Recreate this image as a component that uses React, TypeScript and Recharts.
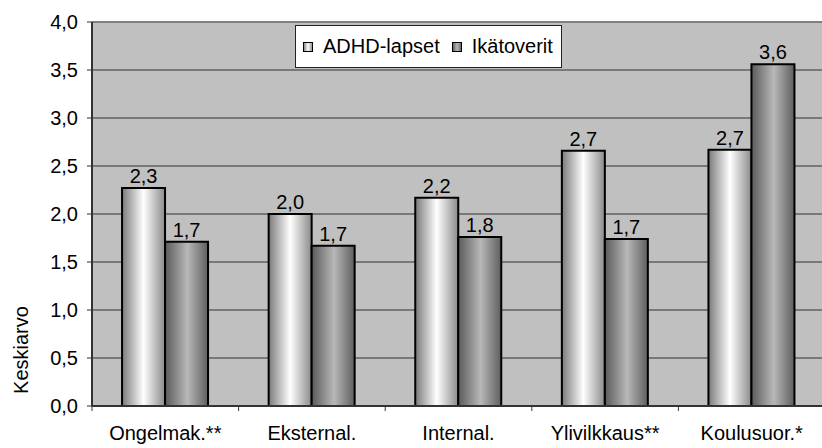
import React from 'react';
import { BarChart, Bar, XAxis, YAxis, CartesianGrid, LabelList, ReferenceLine, Label } from 'recharts';

const CATEGORIES = ['Ongelmak.**', 'Eksternal.', 'Internal.', 'Ylivilkkaus**', 'Koulusuor.*'];
const ADHD_VALUES = [2.27, 2.0, 2.17, 2.66, 2.67];
const PEER_VALUES = [1.71, 1.67, 1.76, 1.74, 3.56];
const SERIES_NAMES = ['ADHD-lapset', 'Ikätoverit'];
const Y_TICKS = [0, 0.5, 1, 1.5, 2, 2.5, 3, 3.5, 4];

const FONT = '"Liberation Sans", Arial, sans-serif';
const GRADIENT_IDS = ['grad-adhd', 'grad-peers'];

const data = CATEGORIES.map((name, i) => ({
  name,
  adhd: ADHD_VALUES[i],
  peers: PEER_VALUES[i],
}));

const fmt = (v: number) => Number(v).toFixed(1).replace('.', ',');

// category label centred in its band, tick mark on the band's left edge
const CategoryTick = (props: any) => {
  const { x, y, payload, index, visibleTicksCount } = props;
  const half = payload?.offset ?? 73;
  const top = y - 20;
  return (
    <g>
      <line x1={x - half} x2={x - half} y1={top} y2={top + 5} stroke="#333" strokeWidth={1} />
      {index === visibleTicksCount - 1 && (
        <line x1={x + half} x2={x + half} y1={top} y2={top + 5} stroke="#333" strokeWidth={1} />
      )}
      <text x={x} y={y} dy="0.71em" textAnchor="middle" fill="#000" fontSize={20} fontFamily={FONT}>
        {payload.value}
      </text>
    </g>
  );
};

const YTitle = (props: any) => {
  const { viewBox } = props;
  const cx = viewBox.x + 21;
  const cy = viewBox.y + viewBox.height - 56;
  return (
    <text
      x={cx}
      y={cy}
      transform={`rotate(-90 ${cx} ${cy})`}
      textAnchor="middle"
      dominantBaseline="central"
      fontSize={20}
      fontFamily={FONT}
      fill="#000"
    >
      Keskiarvo
    </text>
  );
};

const LegendBox = () => (
  <div
    style={{
      position: 'absolute',
      left: 295,
      top: 25,
      height: 41,
      display: 'flex',
      alignItems: 'center',
      background: '#fff',
      border: '1px solid #222',
      padding: '0 8px 0 7px',
      fontFamily: FONT,
      fontSize: 20,
      color: '#000',
      whiteSpace: 'nowrap',
    }}
  >
    {SERIES_NAMES.map((n, i) => (
      <span key={n} style={{ display: 'flex', alignItems: 'center', marginRight: i === 0 ? 12 : 0 }}>
        <svg width={10} height={10} style={{ marginRight: 10 }}>
          <rect x={0.5} y={0.5} width={9} height={9} fill={`url(#${GRADIENT_IDS[i]})`} stroke="#000" />
        </svg>
        {n}
      </span>
    ))}
  </div>
);

export default function App() {
  return (
    <div style={{ position: 'absolute', left: 0, top: 0, width: 822, height: 448, overflow: 'hidden', background: '#fff' }}>
      <BarChart
        width={830}
        height={448}
        data={data}
        margin={{ top: 22, right: 5, bottom: 0, left: 0 }}
        barCategoryGap="20.5%"
        barGap={0}
      >
        <defs>
          <linearGradient id="grad-adhd" x1="0" y1="0" x2="1" y2="0">
            <stop offset="0%" stopColor="#7a7a7a" />
            <stop offset="50%" stopColor="#ffffff" />
            <stop offset="100%" stopColor="#8a8a8a" />
          </linearGradient>
          <linearGradient id="grad-peers" x1="0" y1="0" x2="1" y2="0">
            <stop offset="0%" stopColor="#5a5a5a" />
            <stop offset="52%" stopColor="#b8b8b8" />
            <stop offset="100%" stopColor="#5e5e5e" />
          </linearGradient>
        </defs>
        <CartesianGrid vertical={false} stroke="#333" fill="#c0c0c0" fillOpacity={1} />
        <XAxis
          dataKey="name"
          height={42}
          axisLine={{ stroke: '#333', strokeWidth: 2 }}
          tickLine={false}
          tickSize={5}
          tickMargin={15}
          interval={0}
          tick={<CategoryTick />}
        />
        <YAxis
          width={92}
          domain={[0, 4]}
          ticks={Y_TICKS}
          interval={0}
          tickFormatter={fmt}
          axisLine={{ stroke: '#333', strokeWidth: 2 }}
          tickLine={{ stroke: '#333' }}
          tickSize={5}
          tickMargin={9}
          tick={{ fill: '#000', fontSize: 20, fontFamily: FONT }}
        >
          <Label content={<YTitle />} />
        </YAxis>
        <ReferenceLine y={4} stroke="#808080" strokeWidth={2} />
        <Bar dataKey="adhd" name={SERIES_NAMES[0]} fill="url(#grad-adhd)" stroke="#000" strokeWidth={2} isAnimationActive={false}>
          <LabelList dataKey="adhd" position="top" offset={5} formatter={fmt} fill="#000" fontSize={20} fontFamily={FONT} />
        </Bar>
        <Bar dataKey="peers" name={SERIES_NAMES[1]} fill="url(#grad-peers)" stroke="#000" strokeWidth={2} isAnimationActive={false}>
          <LabelList dataKey="peers" position="top" offset={5} formatter={fmt} fill="#000" fontSize={20} fontFamily={FONT} />
        </Bar>
      </BarChart>
      <LegendBox />
    </div>
  );
}
